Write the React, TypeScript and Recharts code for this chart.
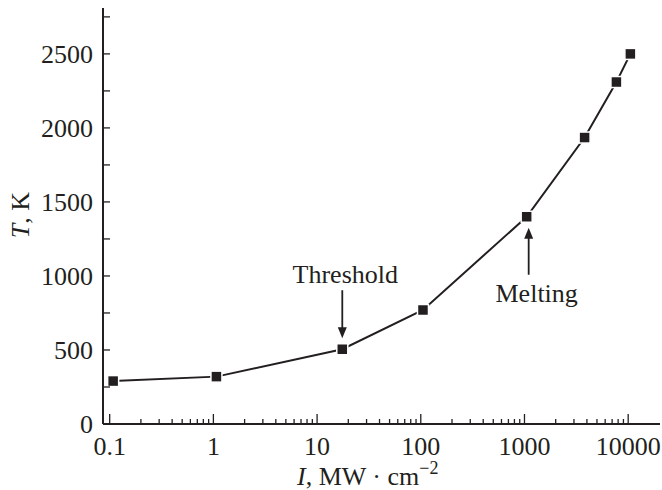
import React from 'react'
import { LineChart, Line, XAxis, YAxis, ReferenceDot } from 'recharts'

// intensity I (MW/cm^2) and temperature T (K)
const INTENSITY = [0.108, 1.07, 17.5, 105, 1050, 3800, 7700, 10500]
const TEMPERATURE = [290, 320, 505, 770, 1400, 1935, 2310, 2500]

const X_MAJOR = [0.1, 1, 10, 100, 1000, 10000]
const X_MAJOR_LABELS = ['0.1', '1', '10', '100', '1000', '10000']
const X_MINOR_STEPS = [2, 3, 4, 5, 6, 7, 8, 9]
const Y_TICKS = [0, 250, 500, 750, 1000, 1250, 1500, 1750, 2000, 2250, 2500, 2750]
const Y_LABELED = [0, 500, 1000, 1500, 2000, 2500]

const ANNOTATIONS = [
  { I: 17.5, T: 505, text: 'Threshold', dir: 'down' },
  { I: 1050, T: 1400, text: 'Melting', dir: 'up' },
]

const data = INTENSITY.map((I, i) => ({ I, T: TEMPERATURE[i] }))

const xTicks = [
  ...X_MAJOR,
  ...X_MAJOR.slice(0, -1).flatMap((d) => X_MINOR_STEPS.map((m) => d * m)),
].sort((a, b) => a - b)

const INK = '#231f20'
const FONT = 'Times New Roman, Liberation Serif, Tinos, serif'
const textStyle = { fontFamily: FONT, fontSize: 26, fill: INK }

function XTick({ x, y, payload }: any) {
  const idx = X_MAJOR.indexOf(payload.value)
  const major = idx >= 0
  return (
    <g>
      <line x1={x} x2={x} y1={y} y2={y - (major ? 10 : 5)} stroke={INK} strokeWidth={1.3} />
      {major && (
        <text x={x} y={y + 31} textAnchor="middle" style={textStyle}>
          {X_MAJOR_LABELS[idx]}
        </text>
      )}
    </g>
  )
}

function YTick({ x, y, payload }: any) {
  const labeled = Y_LABELED.includes(payload.value)
  return (
    <g>
      <line x1={x} x2={x + 7} y1={y} y2={y} stroke={INK} strokeWidth={1.3} />
      {labeled && (
        <text x={x - 10} y={y + 9} textAnchor="end" style={textStyle}>
          {payload.value}
        </text>
      )}
    </g>
  )
}

function SquareDot({ cx, cy }: any) {
  if (cx == null || cy == null) return null
  return <rect x={cx - 5.5} y={cy - 5.5} width={11} height={11} fill={INK} stroke="#fff" strokeWidth={1.5} />
}

function Annotation({ cx, cy, text, dir }: any) {
  if (dir === 'down') {
    // label above, arrow pointing down onto the point
    return (
      <g>
        <line x1={cx} x2={cx} y1={cy - 59} y2={cy - 20} stroke={INK} strokeWidth={1.8} />
        <polygon points={`${cx - 4.5},${cy - 22} ${cx + 4.5},${cy - 22} ${cx},${cy - 11}`} fill={INK} />
        <text x={cx + 3} y={cy - 66} textAnchor="middle" style={textStyle}>
          {text}
        </text>
      </g>
    )
  }
  return (
    <g>
      <line x1={cx + 2} x2={cx + 2} y1={cy + 58} y2={cy + 20} stroke={INK} strokeWidth={1.8} />
      <polygon points={`${cx - 2.5},${cy + 22} ${cx + 6.5},${cy + 22} ${cx + 2},${cy + 11}`} fill={INK} />
      <text x={cx + 10} y={cy + 85} textAnchor="middle" style={textStyle}>
        {text}
      </text>
    </g>
  )
}

export default function App() {
  return (
    <div style={{ position: 'absolute', left: 0, top: 0, width: 662, height: 490, background: '#fff' }}>
      <LineChart width={662} height={490} data={data} margin={{ top: 8, right: 2, bottom: 0, left: 0 }}>
        <XAxis
          dataKey="I"
          type="number"
          scale="log"
          domain={[0.0862, 20270]}
          allowDataOverflow
          ticks={xTicks}
          interval={0}
          height={66}
          tickSize={0}
          tickMargin={0}
          tickLine={false}
          axisLine={{ stroke: INK, strokeWidth: 2 }}
          tick={<XTick />}
          label={{
            position: 'insideBottom',
            content: () => (
              <text x={297} y={485} style={textStyle}>
                <tspan fontStyle="italic">I</tspan>
                <tspan>, MW · cm</tspan>
                <tspan dy={-11} fontSize={18}>−2</tspan>
              </text>
            ),
          }}
        />
        <YAxis
          type="number"
          domain={[0, 2810]}
          allowDataOverflow
          ticks={Y_TICKS}
          interval={0}
          width={103}
          tickSize={0}
          tickMargin={0}
          tickLine={false}
          axisLine={{ stroke: INK, strokeWidth: 2 }}
          tick={<YTick />}
          label={{
            position: 'insideLeft',
            content: () => (
              <text x={29} y={215} transform="rotate(-90, 29, 215)" textAnchor="middle" style={textStyle}>
                <tspan fontStyle="italic">T</tspan>
                <tspan>, K</tspan>
              </text>
            ),
          }}
        />
        <Line
          type="linear"
          dataKey="T"
          stroke={INK}
          strokeWidth={2}
          dot={<SquareDot />}
          activeDot={false}
          isAnimationActive={false}
        />
        {ANNOTATIONS.map((a) => (
          <ReferenceDot
            key={a.text}
            x={a.I}
            y={a.T}
            r={0}
            ifOverflow="visible"
            shape={(p: any) => <Annotation cx={p.cx} cy={p.cy} text={a.text} dir={a.dir} />}
          />
        ))}
      </LineChart>
    </div>
  )
}
